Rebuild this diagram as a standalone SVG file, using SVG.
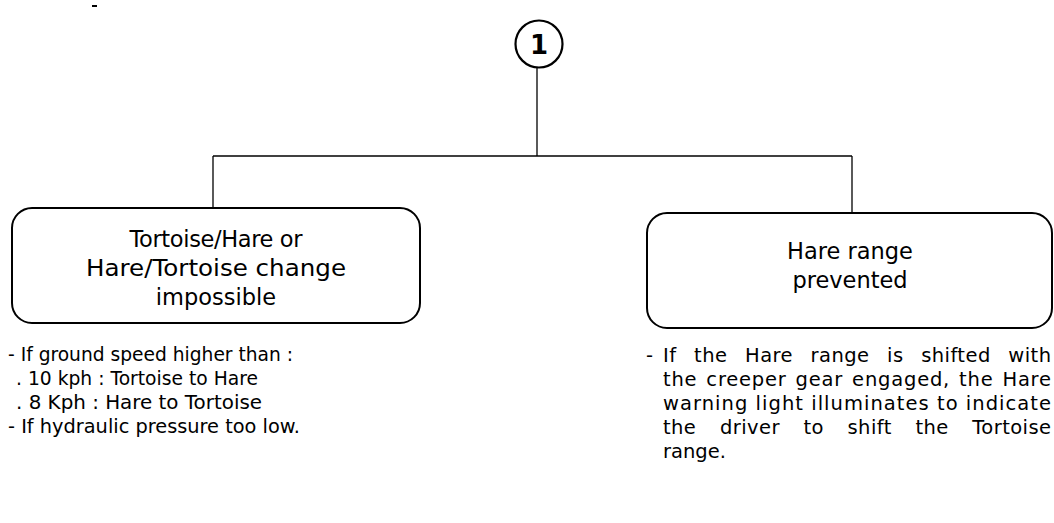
<svg xmlns="http://www.w3.org/2000/svg" width="1054" height="523" viewBox="0 0 1054 523">
<style>
.ln{stroke:#000;stroke-width:1.3;fill:none}
.box{stroke:#000;stroke-width:2;fill:none}
.bt{font-family:"DejaVu Sans","Liberation Sans",sans-serif;font-size:22.5px;fill:#000;text-anchor:middle}
.tx{font-family:"DejaVu Sans","Liberation Sans",sans-serif;font-size:19.5px;fill:#000}
</style>
<rect x="92" y="5" width="5" height="2" fill="#000"/>
<g id="connectors">
<line class="ln" x1="537" y1="67" x2="537" y2="156"/>
<line class="ln" x1="213" y1="156" x2="852" y2="156"/>
<line class="ln" x1="213" y1="156" x2="213" y2="208"/>
<line class="ln" x1="852" y1="156" x2="852" y2="213"/>
</g>
<g id="node1">
<circle cx="539" cy="44" r="23.5" fill="none" stroke="#000" stroke-width="2.2"/>
<text x="539" y="53.5" font-family="DejaVu Sans,sans-serif" font-weight="bold" font-size="26" text-anchor="middle">1</text>
</g>
<g id="left">
<rect class="box" x="12" y="208" width="408" height="115" rx="20"/>
<text class="bt" x="216" y="247" textLength="173" lengthAdjust="spacing">Tortoise/Hare or</text>
<text class="bt" x="216" y="276" textLength="260" lengthAdjust="spacingAndGlyphs">Hare/Tortoise change</text>
<text class="bt" x="216" y="305">impossible</text>
</g>
<g id="right">
<rect class="box" x="647" y="213" width="405" height="115" rx="20"/>
<text class="bt" x="850" y="259">Hare range</text>
<text class="bt" x="850" y="288">prevented</text>
</g>
<g id="left-notes">
<text class="tx" x="8" y="361" textLength="285" lengthAdjust="spacingAndGlyphs">- If ground speed higher than :</text>
<text class="tx" x="16" y="385" textLength="242" lengthAdjust="spacingAndGlyphs">. 10 kph : Tortoise to Hare</text>
<text class="tx" x="16" y="409" textLength="246" lengthAdjust="spacingAndGlyphs">. 8 Kph : Hare to Tortoise</text>
<text class="tx" x="8" y="433" textLength="292" lengthAdjust="spacingAndGlyphs">- If hydraulic pressure too low.</text>
</g>
<g id="right-notes">
<text class="tx" x="646" y="362">-</text>
<text class="tx" x="663" y="362" word-spacing="11" textLength="388" lengthAdjust="spacing">If the Hare range is shifted with</text>
<text class="tx" x="663" y="386" word-spacing="2" textLength="388" lengthAdjust="spacing">the creeper gear engaged, the Hare</text>
<text class="tx" x="663" y="410" textLength="388" lengthAdjust="spacing">warning light illuminates to indicate</text>
<text class="tx" x="663" y="434" word-spacing="17" textLength="388" lengthAdjust="spacing">the driver to shift the Tortoise</text>
<text class="tx" x="663" y="458">range.</text>
</g>
</svg>
